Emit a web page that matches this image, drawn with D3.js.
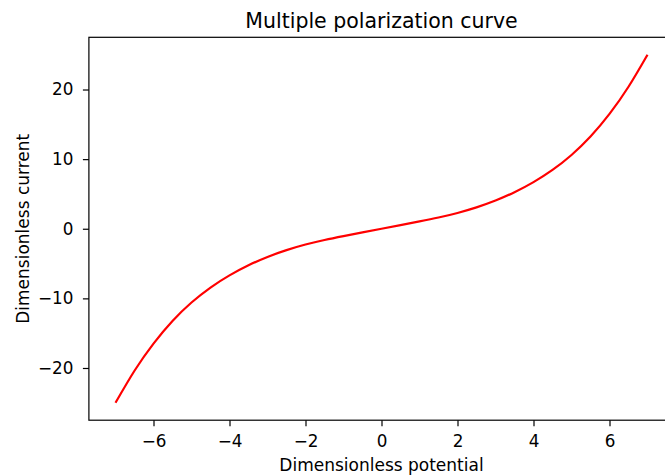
<!DOCTYPE html>
<html>
<head>
<meta charset="utf-8">
<script src="https://cdn.jsdelivr.net/npm/d3@7"></script>
<style>
  body { margin: 0; background: #fff; }
  svg { display: block; font-family: "DejaVu Sans", sans-serif; }
</style>
</head>
<body>
<div class="chart"></div>
<script>
// values
var potential = [-7, -6.5, -6, -5.5, -5, -4.5, -4, -3.5, -3, -2.5, -2, -1.5, -1, -0.5,
                 0, 0.5, 1, 1.5, 2, 2.5, 3, 3.5, 4, 4.5, 5, 5.5, 6, 6.5, 7];
var current = [-25.0, -20.4, -16.5, -13.25, -10.6, -8.45, -6.7, -5.25, -4.05, -3.07, -2.27, -1.61, -1.05, -0.52,
               0, 0.52, 1.05, 1.61, 2.27, 3.07, 4.05, 5.25, 6.7, 8.45, 10.6, 13.25, 16.5, 20.4, 25.0];
var xTicks = [-6, -4, -2, 0, 2, 4, 6];
var yTicks = [-20, -10, 0, 10, 20];

function drawChart()
{
    var width = 665, height = 476;
    var plotLeft = 88.9, plotRight = 674.1, plotTop = 37.3, plotBottom = 420.2;

    var svg = d3.select(".chart").append("svg")
        .attr("width", width)
        .attr("height", height);

    svg.append("rect")
        .attr("width", width)
        .attr("height", height)
        .attr("fill", "#ffffff");

    var x = d3.scaleLinear().domain([-7.7, 7.7]).range([plotLeft, plotRight]);
    var y = d3.scaleLinear().domain([-27.5, 27.5]).range([plotBottom, plotTop]);

    var points = potential.map(function (p, i) { return [p, current[i]]; });

    var line = d3.line()
        .x(function (d) { return x(d[0]); })
        .y(function (d) { return y(d[1]); })
        .curve(d3.curveNatural);

    svg.append("path")
        .datum(points)
        .attr("fill", "none")
        .attr("stroke", "#ff0000")
        .attr("stroke-width", 2.2)
        .attr("d", line);

    var xAxis = svg.append("g")
        .attr("transform", "translate(0," + plotBottom + ")")
        .call(d3.axisBottom(x).tickValues(xTicks).tickSize(6).tickPadding(8.6).tickFormat(d3.format("d")));

    var yAxis = svg.append("g")
        .attr("transform", "translate(" + plotLeft + ",0)")
        .call(d3.axisLeft(y).tickValues(yTicks).tickSize(6).tickPadding(9.5).tickFormat(d3.format("d")));

    [xAxis, yAxis].forEach(function (g) {
        g.select(".domain").remove();
        g.selectAll(".tick line").attr("stroke", "#000").attr("stroke-width", 1.2);
        g.selectAll(".tick text")
            .attr("fill", "#000")
            .style("font-size", "16.8px")
            .style("font-family", "DejaVu Sans");
    });

    // spines
    svg.append("rect")
        .attr("x", plotLeft)
        .attr("y", plotTop)
        .attr("width", plotRight - plotLeft)
        .attr("height", plotBottom - plotTop)
        .attr("fill", "none")
        .attr("stroke", "#000")
        .attr("stroke-width", 1.2);

    svg.append("text")
        .attr("x", (plotLeft + plotRight) / 2)
        .attr("y", 27.5)
        .attr("text-anchor", "middle")
        .style("font-size", "20.5px")
        .text("Multiple polarization curve");

    svg.append("text")
        .attr("x", (plotLeft + plotRight) / 2)
        .attr("y", 470.5)
        .attr("text-anchor", "middle")
        .style("font-size", "17px")
        .text("Dimensionless potential");

    svg.append("text")
        .attr("transform", "translate(28.5," + ((plotTop + plotBottom) / 2) + ") rotate(-90)")
        .attr("text-anchor", "middle")
        .style("font-size", "17px")
        .text("Dimensionless current");
}

drawChart();
</script>
</body>
</html>
